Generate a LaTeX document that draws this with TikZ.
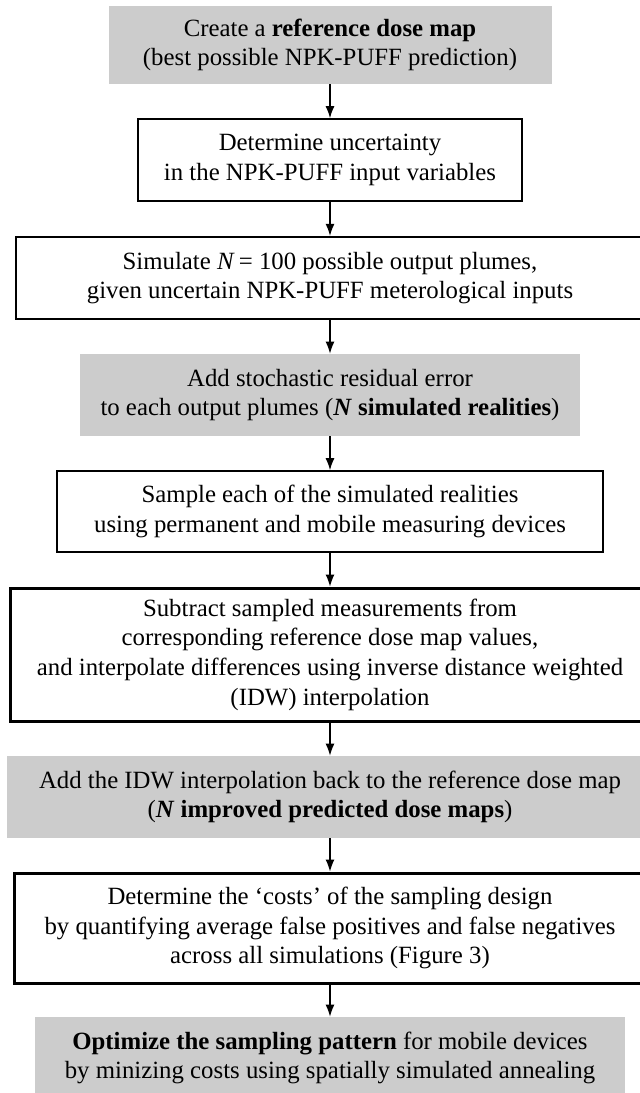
\documentclass[tikz,border=0pt]{standalone}
\usepackage{fontspec}
\setmainfont{Liberation Serif}
\usetikzlibrary{arrows.meta}
\definecolor{boxgrey}{RGB}{204,204,204}

\begin{document}
\begin{tikzpicture}[x=0.5pt, y=-0.5pt,
        every node/.style={align=center, inner sep=2pt, font=\fontsize{12.4}{14.8}\selectfont},
        greybox/.style={fill=boxgrey, minimum height=41pt},
        thinbox/.style={draw=black, line width=0.85pt, minimum height=41pt},
        thickbox/.style={draw=black, line width=1.5pt},
        >={Latex[length=6pt, width=4.5pt]}]

        \useasboundingbox (0,0) rectangle (640,1093);
        \clip (0,0) rectangle (640,1093);

        \node[greybox, minimum width=221.5pt, minimum height=39pt] (A) at (330,45)
            {Create a \textbf{reference dose map}\\(best possible NPK-PUFF prediction)};
        \node[thinbox, minimum width=192pt] (B) at (330,160)
            {Determine uncertainty\\in the NPK-PUFF input variables};
        \node[thinbox, line width=1.15pt, minimum width=314pt] (C) at (330,278)
            {Simulate \textit{N}\,= 100 possible output plumes,\\given uncertain NPK-PUFF meterological inputs};
        \node[greybox, minimum width=250pt] (D) at (330,395)
            {Add stochastic residual error\\to each output plumes (\textbf{\textit{N} simulated realities})};
        \node[thinbox, minimum width=273pt, minimum height=40.5pt] (E) at (330,511.5)
            {Sample each of the simulated realities\\using permanent and mobile measuring devices};
        \node[thickbox, minimum width=320pt, minimum height=66.5pt] (F) at (330,654.5)
            {Subtract sampled measurements from\\corresponding reference dose map values,\\and interpolate differences using inverse distance weighted\\(IDW) interpolation};
        \node[greybox, minimum width=323pt] (G) at (330,797)
            {Add the IDW interpolation back to the reference dose map\\(\textbf{\textit{N} improved predicted dose maps})};
        \node[thickbox, minimum width=316pt, minimum height=55pt] (H) at (330,928)
            {Determine the `costs' of the sampling design\\by quantifying average false positives and false negatives\\across all simulations (Figure 3)};
        \node[greybox, minimum width=295pt] (I) at (330,1058)
            {\textbf{Optimize the sampling pattern} for mobile devices\\by minizing costs using spatially simulated annealing};

        \draw[->, line width=0.6pt] (A) to (B);
        \draw[->, line width=0.6pt] (B) to (C);
        \draw[->, line width=0.6pt] (C) to (D);
        \draw[->, line width=0.6pt] (D) to (E);
        \draw[->, line width=0.6pt] (E) to (F);
        \draw[->, line width=0.6pt] (F) to (G);
        \draw[->, line width=0.6pt] (G) to (H);
        \draw[->, line width=0.6pt] (H) to (I);

\end{tikzpicture}
\end{document}
